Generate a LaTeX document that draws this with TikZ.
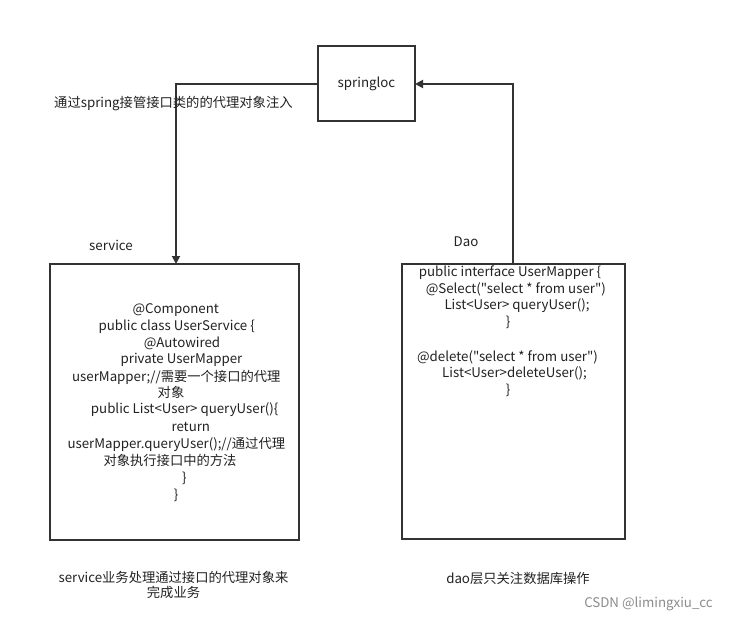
\documentclass[tikz,border=0pt]{standalone}
\usepackage{fontspec}
\newfontfamily\cjkf{Noto Sans CJK SC}
\usetikzlibrary{arrows.meta}
\definecolor{ln}{HTML}{333333}
\definecolor{tx}{HTML}{222222}
\begin{document}
\begin{tikzpicture}[x=1pt,y=-1pt,
  box/.style={draw=ln,line width=1.8pt},
  conn/.style={draw=ln,line width=1.8pt,-{Triangle[length=8pt,width=8pt]}},
  t/.style={font=\cjkf\fontsize{13.3}{15}\selectfont,text=tx,inner sep=0pt,anchor=center},
  tl/.style={font=\cjkf\fontsize{13.3}{15}\selectfont,text=tx,inner sep=0pt,anchor=west}]
\useasboundingbox[fill=white] (0,0) rectangle (729,623);
% boxes
\draw[box] (318,46) rectangle (415,121);
\node[t] (spring) at (366.5,83.5) {springloc};
\coordinate (sL) at (318,84);
\coordinate (sR) at (415,84);
\draw[box] (50,264) rectangle (299,540);
\coordinate (svT) at (176,264);
\draw[box] (402,264) rectangle (625,539);
\coordinate (dT) at (513,264);
% connectors
\draw[conn] (sL) -| (svT);
\draw[conn] (dT) |- (sR);
% labels
\node[tl] (lab1) at (54,104) {通过spring接管接口类的的代理对象注入};
\node[t] (lsv) at (111,245) {service};
\node[t] (ldao) at (466,242) {Dao};
% service text
\node[t] (s1) at (175.8,310) {@Component};
\node[t] (s2) at (176.7,327) {public class UserService \{};
\node[t] (s3) at (182,343.5) {@Autowired};
\node[t] (s4) at (181.5,360) {private UserMapper};
\node[t] (s5) at (176.3,377) {userMapper;//需要一个接口的代理};
\node[t] (s6) at (171,392.5) {对象};
\node[t] (s7) at (184.7,409.5) {public List<User> queryUser()\{};
\node[t] (s8) at (190.8,427) {return};
\node[t] (s9) at (176.3,444) {userMapper.queryUser();//通过代理};
\node[t] (s10) at (170,460.5) {对象执行接口中的方法};
\node[t] (s11) at (184.3,478) {\}};
\node[t] (s12) at (176,495.5) {\}};
% dao text
\node[t] (d1) at (510,272.5) {public interface UserMapper \{};
\node[t] (d2) at (515.8,289) {@Select("select * from user")};
\node[t] (d3) at (517,305.5) {List<User> queryUser();};
\node[t] (d4) at (508,322.5) {\}};
\node[t] (d5) at (507.5,357) {@delete("select * from user")};
\node[t] (d6) at (514.5,373.5) {List<User>deleteUser();};
\node[t] (d7) at (508,390.5) {\}};
% bottom
\node[t] (b1) at (173.5,577) {service业务处理通过接口的代理对象来};
\node[t] (b2) at (173.5,592) {完成业务};
\node[t] (b3) at (518,578) {dao层只关注数据库操作};
\node[t,text=gray!90] (b4) at (648.5,604) {CSDN @limingxiu\_cc};
\end{tikzpicture}
\end{document}
